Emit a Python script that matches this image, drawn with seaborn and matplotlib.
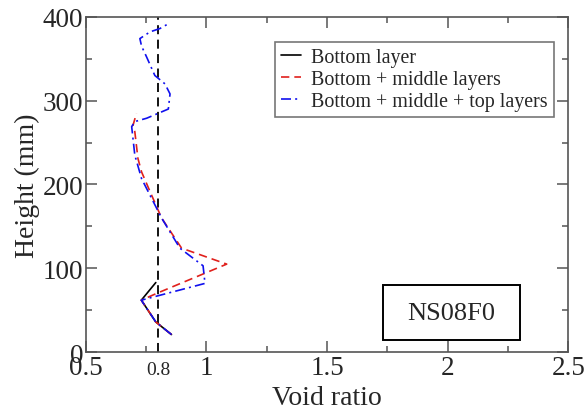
import matplotlib
matplotlib.use("Agg")
import matplotlib.pyplot as plt
import seaborn as sns
import pandas as pd
from matplotlib.ticker import MultipleLocator, FormatStrFormatter
from matplotlib.patches import Rectangle

sns.set_theme(style="ticks")
plt.rcParams["font.family"] = ["Liberation Serif", "DejaVu Serif"]

# Void ratio profiles (height in mm)
bottom_void = [0.855, 0.79, 0.73, 0.79]
bottom_height = [21, 36, 62, 83]

mid_void = [0.855, 0.79, 0.73, 0.793, 1.084, 0.897, 0.814, 0.773, 0.731, 0.716, 0.703, 0.695, 0.71]
mid_height = [21, 36, 62, 70, 105, 124, 160, 187, 215, 231, 263, 270, 285]

top_void = [0.855, 0.79, 0.73, 0.994, 0.986, 0.89, 0.814, 0.731, 0.703, 0.69, 0.703,
            0.752, 0.793, 0.842, 0.849, 0.828, 0.786, 0.752, 0.731, 0.724, 0.766, 0.807, 0.844]
top_height = [21, 36, 62, 82, 103, 124, 160, 207, 235, 269, 275,
              279, 284, 290, 308, 320, 330, 352, 365, 374, 382, 386, 392]

reference_void = 0.8
series_labels = ["Bottom layer", "Bottom + middle layers", "Bottom + middle + top layers"]
specimen = "NS08F0"

fig = plt.figure(figsize=(5.84, 4.14), dpi=100)
ax = fig.add_axes([0.147, 0.147, 0.826, 0.81])

df_b = pd.DataFrame({"void": bottom_void, "height": bottom_height})
df_m = pd.DataFrame({"void": mid_void, "height": mid_height})
df_t = pd.DataFrame({"void": top_void, "height": top_height})

common = dict(x="void", y="height", sort=False, estimator=None, errorbar=None, ax=ax, lw=1.2)
sns.lineplot(data=df_b, color="black", label=series_labels[0], **common)
sns.lineplot(data=df_m, color="#e0201c", label=series_labels[1], **common)
ax.lines[-1].set_linestyle((0, (5, 3)))
sns.lineplot(data=df_t, color="#1010ee", label=series_labels[2], **common)
ax.lines[-1].set_linestyle((0, (6, 2.5, 1.2, 2.5)))

ax.axvline(reference_void, color="black", lw=1.3, ls=(0, (5, 3)), zorder=1)

ax.set_xlim(0.5, 2.5)
ax.set_ylim(0, 400)
ax.xaxis.set_major_locator(MultipleLocator(0.5))
ax.xaxis.set_minor_locator(MultipleLocator(0.25))
ax.xaxis.set_major_formatter(FormatStrFormatter("%g"))
ax.yaxis.set_major_locator(MultipleLocator(100))
ax.yaxis.set_minor_locator(MultipleLocator(50))
ax.tick_params(which="both", direction="in", top=True, right=True, color="#555555", width=1.1)
ax.tick_params(which="major", length=8, labelsize=19.5, pad=2)
ax.tick_params(which="minor", length=4.5)
for s in ax.spines.values():
    s.set_color("#555555")
    s.set_linewidth(1.2)

ax.set_xlabel("Void ratio", fontsize=20, labelpad=3.5)
ax.set_ylabel("Height (mm)", fontsize=20, labelpad=2)

ax.text(reference_void, -0.025, "0.8", transform=ax.get_xaxis_transform(),
        ha="center", va="top", fontsize=14)

leg = ax.legend(loc="upper right", bbox_to_anchor=(0.97, 0.925), fontsize=14.4,
                frameon=True, fancybox=False, handlelength=1.0, handletextpad=0.5,
                borderpad=0.3, labelspacing=0.15, borderaxespad=0)
leg.get_frame().set_edgecolor("#555555")
leg.get_frame().set_linewidth(1.2)

ax.add_patch(Rectangle((0.617, 0.036), 0.283, 0.164, transform=ax.transAxes,
                       fc="white", ec="black", lw=1.4, zorder=5))
ax.text(0.758, 0.118, specimen, transform=ax.transAxes, ha="center", va="center",
        fontsize=19, zorder=6)

fig.savefig("out.png", dpi=100)
